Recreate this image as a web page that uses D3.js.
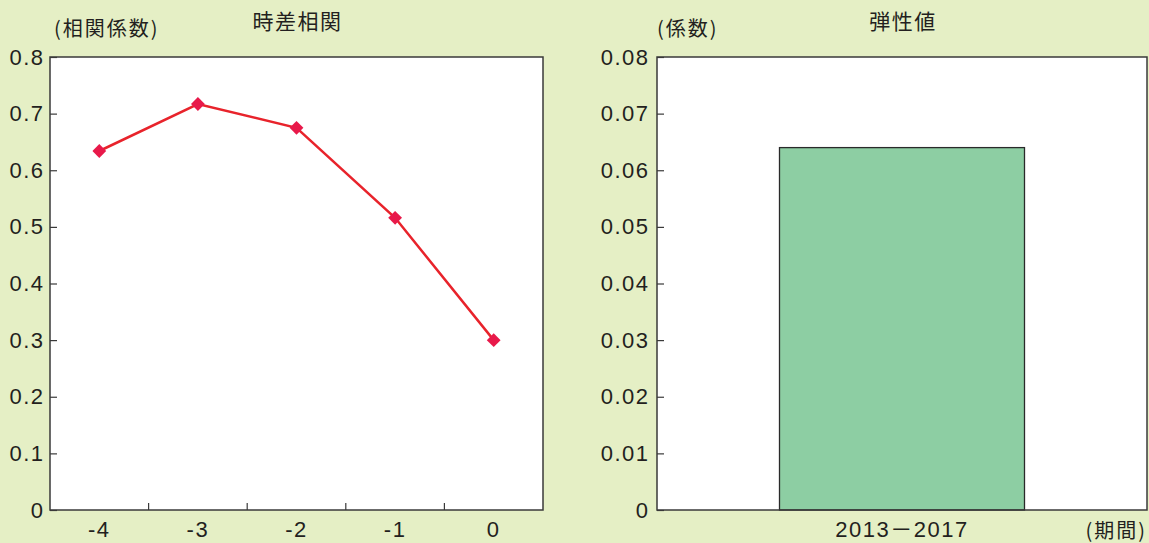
<!DOCTYPE html>
<html>
<head>
<meta charset="utf-8">
<script src="https://cdn.jsdelivr.net/npm/d3@7"></script>
<style>
  html, body { margin: 0; padding: 0; background: #e5efc5; }
  svg { display: block; }
  text { font-family: "Liberation Sans", Arial, "Noto Sans CJK JP", sans-serif; fill: #231f20; }
  .jp { font-family: "Noto Sans CJK JP", sans-serif; }
</style>
</head>
<body>
<svg id="chart" width="1149" height="543"></svg>
<script>
// Lead/lag correlation (left panel)
const lags = ["-4", "-3", "-2", "-1", "0"];
const correlations = [0.634, 0.717, 0.675, 0.516, 0.300];
const corrTicks = [0, 0.1, 0.2, 0.3, 0.4, 0.5, 0.6, 0.7, 0.8];

// Elasticity (right panel)
const periods = ["2013\uFF0D2017"];
const elasticities = [0.064];
const elasticTicks = [0, 0.01, 0.02, 0.03, 0.04, 0.05, 0.06, 0.07, 0.08];

const svg = d3.select("#chart");
const ink = "#231f20";
const frame = "#3a3a3a";
const numFont = "'Liberation Sans', Arial, 'Noto Sans CJK JP', sans-serif";

function fmt(digits) {
  return d => d === 0 ? "0" : d3.format("." + digits + "f")(d);
}

function styleLabels(sel) {
  sel.attr("font-size", 22).attr("fill", ink)
    .style("font-family", numFont)
    .style("letter-spacing", "1.5px");
}

// ---------- Left panel ----------
const L = { left: 50, right: 543, top: 57, bottom: 510 };
const xL = d3.scaleBand().domain(lags).range([L.left, L.right]).padding(0);
const yL = d3.scaleLinear().domain([0, 0.8]).range([L.bottom, L.top]);

const gL = svg.append("g");
gL.append("rect")
  .attr("x", L.left).attr("y", L.top)
  .attr("width", L.right - L.left).attr("height", L.bottom - L.top)
  .attr("fill", "#fff");

// y axis: inward ticks, labels on the left
const yAxisL = gL.append("g")
  .attr("transform", `translate(${L.left},0)`)
  .call(d3.axisLeft(yL).tickValues(corrTicks).tickFormat(fmt(1)).tickSize(-7).tickPadding(5.5));
yAxisL.select(".domain").remove();
yAxisL.selectAll(".tick line").attr("stroke", frame).attr("stroke-width", 1.2);
yAxisL.selectAll(".tick text").call(styleLabels);

// x axis labels at band centres
const xAxisL = gL.append("g")
  .attr("transform", `translate(0,${L.bottom})`)
  .call(d3.axisBottom(xL).tickSize(0).tickPadding(11));
xAxisL.select(".domain").remove();
xAxisL.selectAll(".tick text").call(styleLabels);

// x tick marks at band boundaries, pointing into the plot
gL.append("g").selectAll("line")
  .data(lags.slice(1))
  .join("line")
  .attr("x1", d => xL(d)).attr("x2", d => xL(d))
  .attr("y1", L.bottom).attr("y2", L.bottom - 7)
  .attr("stroke", frame).attr("stroke-width", 1.2);

// plot frame
gL.append("rect")
  .attr("x", L.left).attr("y", L.top)
  .attr("width", L.right - L.left).attr("height", L.bottom - L.top)
  .attr("fill", "none").attr("stroke", frame).attr("stroke-width", 1.5);

// correlation line with diamond markers
const pts = lags.map((d, i) => ({ lag: d, v: correlations[i] }));
gL.append("path")
  .datum(pts)
  .attr("fill", "none")
  .attr("stroke", "#e8232b")
  .attr("stroke-width", 2.5)
  .attr("d", d3.line().x(d => xL(d.lag) + xL.bandwidth() / 2).y(d => yL(d.v)));

gL.append("g").selectAll("path")
  .data(pts)
  .join("path")
  .attr("d", d3.symbol().type(d3.symbolSquare).size(95))
  .attr("transform", d => `translate(${xL(d.lag) + xL.bandwidth() / 2},${yL(d.v)}) rotate(45)`)
  .attr("fill", "#e8194a");

// titles
gL.append("text").attr("class", "jp")
  .attr("x", (L.left + L.right) / 2 + 1).attr("y", 29)
  .attr("text-anchor", "middle").attr("font-size", 21)
  .style("letter-spacing", "1.5px")
  .text("時差相関");
gL.append("text").attr("class", "jp")
  .attr("x", 54).attr("y", 36)
  .attr("text-anchor", "start").attr("font-size", 20)
  .style("letter-spacing", "2px")
  .text("(相関係数)");

// ---------- Right panel ----------
const R = { left: 657, right: 1147, top: 57, bottom: 510 };
const xR = d3.scaleBand().domain(periods).range([R.left, R.right]).paddingInner(0).paddingOuter(0.5);
const yR = d3.scaleLinear().domain([0, 0.08]).range([R.bottom, R.top]);

const gR = svg.append("g");
gR.append("rect")
  .attr("x", R.left).attr("y", R.top)
  .attr("width", R.right - R.left).attr("height", R.bottom - R.top)
  .attr("fill", "#fff");

const yAxisR = gR.append("g")
  .attr("transform", `translate(${R.left},0)`)
  .call(d3.axisLeft(yR).tickValues(elasticTicks).tickFormat(fmt(2)).tickSize(-7).tickPadding(7.5));
yAxisR.select(".domain").remove();
yAxisR.selectAll(".tick line").attr("stroke", frame).attr("stroke-width", 1.2);
yAxisR.selectAll(".tick text").call(styleLabels);

// bar
gR.append("g").selectAll("rect")
  .data(periods.map((p, i) => ({ p, v: elasticities[i] })))
  .join("rect")
  .attr("x", d => xR(d.p))
  .attr("y", d => yR(d.v))
  .attr("width", xR.bandwidth())
  .attr("height", d => yR(0) - yR(d.v))
  .attr("fill", "#8dcea3")
  .attr("stroke", "#2a2a2a")
  .attr("stroke-width", 1.3);

const xAxisR = gR.append("g")
  .attr("transform", `translate(0,${R.bottom})`)
  .call(d3.axisBottom(xR).tickSize(0).tickPadding(11));
xAxisR.select(".domain").remove();
xAxisR.selectAll(".tick text").call(styleLabels);

gR.append("rect")
  .attr("x", R.left).attr("y", R.top)
  .attr("width", R.right - R.left).attr("height", R.bottom - R.top)
  .attr("fill", "none").attr("stroke", frame).attr("stroke-width", 1.5);

gR.append("text").attr("class", "jp")
  .attr("x", (R.left + R.right) / 2 + 1).attr("y", 29)
  .attr("text-anchor", "middle").attr("font-size", 21)
  .style("letter-spacing", "1.5px")
  .text("弾性値");
gR.append("text").attr("class", "jp")
  .attr("x", 657).attr("y", 36)
  .attr("text-anchor", "start").attr("font-size", 20)
  .style("letter-spacing", "2px")
  .text("(係数)");
gR.append("text").attr("class", "jp")
  .attr("x", 1147).attr("y", 538)
  .attr("text-anchor", "end").attr("font-size", 20)
  .style("letter-spacing", "2px")
  .text("(期間)");
</script>
</body>
</html>
